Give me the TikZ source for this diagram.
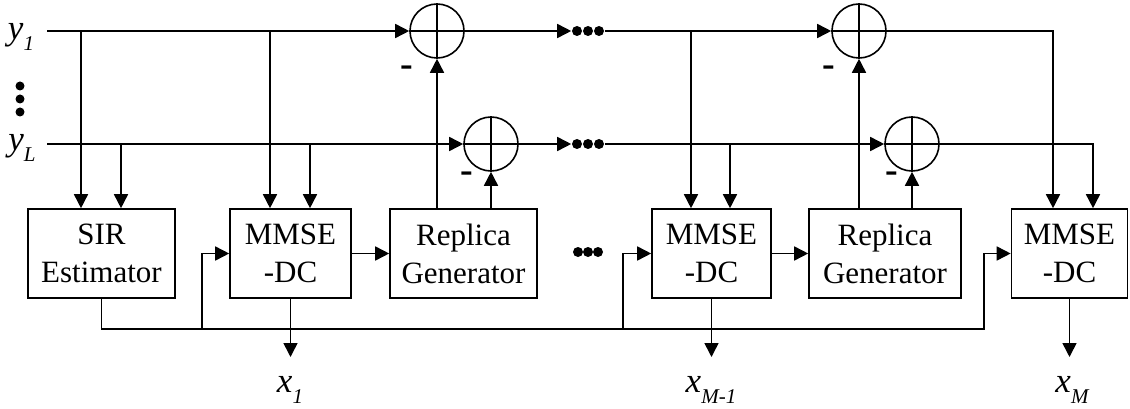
\documentclass[tikz,border=0pt]{standalone}
\usepackage{fontspec}
\setmainfont{Liberation Serif}
\usetikzlibrary{arrows.meta}
\newcommand{\lab}[2]{{\itshape #1}\raisebox{-0.3em}{\fontsize{21}{21}\selectfont\itshape #2}}
\begin{document}
\begin{tikzpicture}[x=1pt,y=-1pt, line width=1.6pt,
 arr/.style={-{Triangle[length=14pt,width=14pt]}},
 blk/.style={draw, minimum height=89pt, inner sep=0pt, align=center, font=\fontsize{31}{38}\selectfont},
 sumnode/.style={draw, circle, minimum size=54pt, inner sep=0pt},
 dotc/.style={circle, fill, inner sep=0pt, minimum size=10pt},
 vdot/.style={circle, fill, inner sep=0pt, minimum size=9pt},
 lbl/.style={font=\fontsize{35}{35}\selectfont, inner sep=0pt},
 minus/.style={font=\fontsize{38}{38}\selectfont\bfseries, inner sep=0pt}]
\useasboundingbox (0,0) rectangle (1130,409);

% blocks
\node[blk, minimum width=147pt] (sir) at (101.5,253.5) {SIR\\Estimator};
\node[blk, minimum width=121pt] (mm1) at (290.5,253.5) {MMSE\\-DC};
\node[blk, minimum width=147pt] (rg1) at (463.5,253.5) {Replica\\Generator};
\node[blk, minimum width=119pt] (mm2) at (711.5,253.5) {MMSE\\-DC};
\node[blk, minimum width=152pt] (rg2) at (885,253.5) {Replica\\Generator};
\node[blk, minimum width=116pt] (mm3) at (1069.5,253.5) {MMSE\\-DC};

% summing nodes
\node[sumnode] (c1) at (437,31) {};
\node[sumnode] (c2) at (491,144) {};
\node[sumnode] (c3) at (859,31) {};
\node[sumnode] (c4) at (912,144) {};
\foreach \c in {c1,c2,c3,c4}{
  \draw (\c.north) -- (\c.south);
  \draw (\c.west) -- (\c.east);
}

% dots
\node[dotc] (ta) at (577,31) {};
\node[dotc] (tb) at (588,31) {};
\node[dotc] (tc) at (599,31) {};
\node[dotc] (ba) at (577,144) {};
\node[dotc] (bb) at (588,144) {};
\node[dotc] (bc) at (599,144) {};
\node[dotc] (ma) at (578,252) {};
\node[dotc] (mb) at (588,252) {};
\node[dotc] (mc) at (598,252) {};
\node[vdot] (va) at (20,86) {};
\node[vdot] (vb) at (20,99) {};
\node[vdot] (vc) at (20,112) {};

% labels
\node[lbl] (ly1) at (21,37) {\lab{y}{1}};
\node[lbl] (lyL) at (22,148) {\lab{y}{L}};
\node[lbl] (lx1) at (290,390) {\lab{x}{1}};
\node[lbl] (lxM1) at (711,390) {\lab{x}{M-1}};
\node[lbl] (lxM) at (1072,390) {\lab{x}{M}};

\node[minus] (m1) at (407,71) {-};
\node[minus] (m2) at (467,177) {-};
\node[minus] (m3) at (829,71) {-};
\node[minus] (m4) at (892,177) {-};

% coordinates
\coordinate (y1s) at (47,31);
\coordinate (yLs) at (47,144);
\coordinate (ja) at (81,31);
\coordinate (jb) at (121,144);
\coordinate (jc) at (270,31);
\coordinate (jd) at (310,144);
\coordinate (je) at (691,31);
\coordinate (jf) at (730,144);
\coordinate (jg) at (1053,31);
\coordinate (jh) at (1093,144);
\coordinate (fr) at (984,329);
\coordinate (k1) at (202,329);
\coordinate (k2) at (623,329);
\coordinate (ob) at (0,357);

% main lines
\draw[arr] (y1s) -- (c1.west);
\draw[arr] (yLs) -- (c2.west);
\draw[arr] (c1.east) -- (ta.west);
\draw[arr] (c2.east) -- (ba.west);
\draw[arr] (tc.east) -- (c3.west);
\draw[arr] (bc.east) -- (c4.west);
\draw[arr] (c3.east) -- (jg) -- (jg |- mm3.north);
\draw[arr] (c4.east) -- (jh) -- (jh |- mm3.north);

% taps
\draw[arr] (ja) -- (ja |- sir.north);
\draw[arr] (jb) -- (jb |- sir.north);
\draw[arr] (jc) -- (jc |- mm1.north);
\draw[arr] (jd) -- (jd |- mm1.north);
\draw[arr] (je) -- (je |- mm2.north);
\draw[arr] (jf) -- (jf |- mm2.north);

% replica to summers
\draw[arr] (rg1.north -| c1) -- (c1.south);
\draw[arr] (rg1.north -| c2) -- (c2.south);
\draw[arr] (rg2.north -| c3) -- (c3.south);
\draw[arr] (rg2.north -| c4) -- (c4.south);

% block chain
\draw[arr] (mm1.east) -- (rg1.west);
\draw[arr] (mm2.east) -- (rg2.west);

% feedback bus
\draw[arr] (sir.south) |- (fr) |- (mm3.west);
\draw[arr] (k1) |- (mm1.west);
\draw[arr] (k2) |- (mm2.west);

% outputs
\draw[arr] (mm1.south) -- (mm1.south |- ob);
\draw[arr] (mm2.south) -- (mm2.south |- ob);
\draw[arr] (mm3.south) -- (mm3.south |- ob);
\end{tikzpicture}
\end{document}
